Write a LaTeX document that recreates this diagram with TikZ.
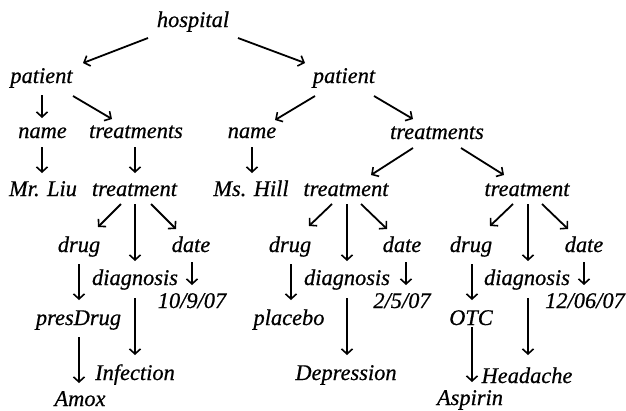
\documentclass[tikz,border=0pt]{standalone}
\usepackage{fontspec}
\setmainfont{Liberation Serif}
\newfontfamily\lblfont{Liberation Serif}[UprightFont={* Italic}, FakeBold=0.6]
\usetikzlibrary{arrows.meta}
\tikzset{
  lbl/.style={anchor=base, inner sep=0pt, font=\lblfont\fontsize{22.4}{26}\selectfont},
  arr/.style={line width=1.8pt, -{Straight Barb[length=5pt,width=11pt,line width=1.6pt]}},
}
\begin{document}
\begin{tikzpicture}[x=1pt, y=-1pt]
\useasboundingbox (0,0) rectangle (626,410);

% root and patients
\node[lbl] (h)   at (193,27)  {hospital};
\node[lbl] (p1)  at (41.5,83) {patient};
\node[lbl] (p2)  at (344,83)  {patient};

% second level
\node[lbl] (n1)  at (42.5,138) {name};
\node[lbl] (ts1) at (136,138)  {treatments};
\node[lbl] (n2)  at (252,138)  {name};
\node[lbl] (ts2) at (437,139)  {treatments};

% names and treatment records
\node[lbl] (v1)  at (43,196)    {Mr. Liu};
\node[lbl] (t1)  at (134.5,196) {treatment};
\node[lbl] (v2)  at (251,196)   {Ms. Hill};
\node[lbl] (t2)  at (346,196)   {treatment};
\node[lbl] (t3)  at (527,196)   {treatment};

% first treatment
\node[lbl] (dr1) at (79,252)   {drug};
\node[lbl] (dg1) at (135,285)  {diagnosis};
\node[lbl] (dt1) at (191,252)  {date};
\node[lbl] (d1)  at (192,308)  {10/9/07};
\node[lbl] (pd)  at (78.5,325) {presDrug};
\node[lbl] (inf) at (135,380)  {Infection};
\node[lbl] (am)  at (80,406)   {Amox};

% second treatment
\node[lbl] (dr2) at (290,252) {drug};
\node[lbl] (dg2) at (347,285) {diagnosis};
\node[lbl] (dt2) at (402,252) {date};
\node[lbl] (d2)  at (402,308) {2/5/07};
\node[lbl] (pl)  at (289,325) {placebo};
\node[lbl] (dep) at (346,380) {Depression};

% third treatment
\node[lbl] (dr3) at (471,252) {drug};
\node[lbl] (dg3) at (527,285) {diagnosis};
\node[lbl] (dt3) at (584,252) {date};
\node[lbl] (d3)  at (585,308) {12/06/07};
\node[lbl] (otc) at (471,325) {OTC};
\node[lbl] (hd)  at (527,383) {Headache};
\node[lbl] (asp) at (470,405) {Aspirin};

% edges
\draw[arr] ([shift={(-45,11)}]h.base)  -- ([shift={(41.5,-20)}]p1.base);
\draw[arr] ([shift={(45,11)}]h.base)   -- ([shift={(-39,-20)}]p2.base);
\draw[arr] ([shift={(0.5,12)}]p1.base) -- ([shift={(-0.5,-20)}]n1.base);
\draw[arr] ([shift={(31.5,13)}]p1.base) -- ([shift={(-24,-19)}]ts1.base);
\draw[arr] ([shift={(-29,13)}]p2.base) -- ([shift={(23,-18)}]n2.base);
\draw[arr] ([shift={(30,13)}]p2.base)  -- ([shift={(-24,-20)}]ts2.base);
\draw[arr] ([shift={(-0.5,9)}]n1.base) -- ([shift={(-1,-23)}]v1.base);
\draw[arr] ([shift={(-1,9)}]ts1.base)  -- ([shift={(0.5,-23)}]t1.base);
\draw[arr] ([shift={(0,9)}]n2.base)    -- ([shift={(1,-23)}]v2.base);
\draw[arr] ([shift={(-24,9)}]ts2.base) -- ([shift={(25,-21)}]t2.base);
\draw[arr] ([shift={(24,9)}]ts2.base)  -- ([shift={(-23,-21)}]t3.base);

\draw[arr] ([shift={(-13.5,8)}]t1.base) -- ([shift={(19,-25)}]dr1.base);
\draw[arr] ([shift={(0.5,8)}]t1.base)   -- ([shift={(0,-24)}]dg1.base);
\draw[arr] ([shift={(16.5,8)}]t1.base)  -- ([shift={(-15,-23)}]dt1.base);
\draw[arr] ([shift={(0,12)}]dr1.base)   -- ([shift={(0.5,-25)}]pd.base);
\draw[arr] ([shift={(0,13)}]dg1.base)   -- ([shift={(0,-25)}]inf.base);
\draw[arr] ([shift={(1,10)}]dt1.base)   -- ([shift={(0,-23)}]d1.base);
\draw[arr] ([shift={(0.5,12)}]pd.base)  -- ([shift={(-1,-23)}]am.base);

\draw[arr] ([shift={(-14,8)}]t2.base) -- ([shift={(19,-26)}]dr2.base);
\draw[arr] ([shift={(1,8)}]t2.base)   -- ([shift={(0,-24)}]dg2.base);
\draw[arr] ([shift={(15,8)}]t2.base)  -- ([shift={(-15,-23)}]dt2.base);
\draw[arr] ([shift={(1,12)}]dr2.base) -- ([shift={(2,-25)}]pl.base);
\draw[arr] ([shift={(0,13)}]dg2.base) -- ([shift={(1,-25)}]dep.base);
\draw[arr] ([shift={(4,10)}]dt2.base) -- ([shift={(4,-23)}]d2.base);

\draw[arr] ([shift={(-14,8)}]t3.base) -- ([shift={(19,-26)}]dr3.base);
\draw[arr] ([shift={(1,8)}]t3.base)   -- ([shift={(1,-24)}]dg3.base);
\draw[arr] ([shift={(15,8)}]t3.base)  -- ([shift={(-16,-23)}]dt3.base);
\draw[arr] ([shift={(1,12)}]dr3.base) -- ([shift={(1,-25)}]otc.base);
\draw[arr] ([shift={(1,13)}]dg3.base) -- ([shift={(1,-28)}]hd.base);
\draw[arr] ([shift={(0,10)}]dt3.base) -- ([shift={(-1,-23)}]d3.base);
\draw[arr] ([shift={(1,2)}]otc.base)  -- ([shift={(2,-23)}]asp.base);
\end{tikzpicture}
\end{document}
